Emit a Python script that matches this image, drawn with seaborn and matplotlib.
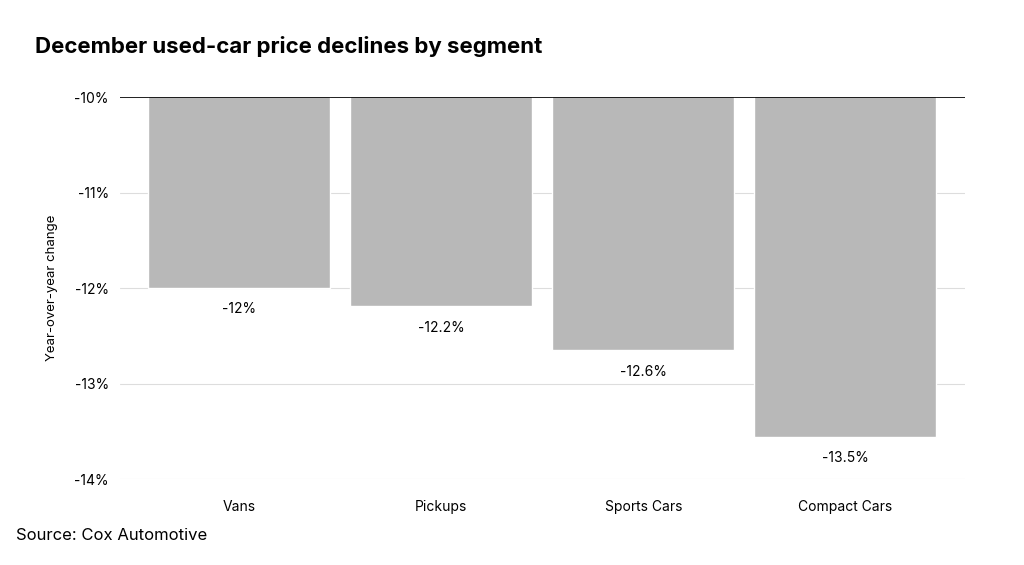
import matplotlib.pyplot as plt
import seaborn as sns
import pandas as pd

segments = ["Vans", "Pickups", "Sports Cars", "Compact Cars"]
changes = [-12.0, -12.19, -12.65, -13.56]
labels = ["-12%", "-12.2%", "-12.6%", "-13.5%"]
yticks = [-10, -11, -12, -13, -14]

sns.set_style("white")
plt.rcParams["font.family"] = ["Inter", "DejaVu Sans"]
plt.rcParams["text.color"] = "black"

df = pd.DataFrame({"segment": segments, "change": changes})
fig = plt.figure(figsize=(10.24, 5.65), dpi=100)
ax = fig.add_axes([0.117, 0.152, 0.825, 0.676])

sns.barplot(data=df, x="segment", y="change", color="#b8b8b8", saturation=1,
            width=0.9, ax=ax, zorder=2)
ax.set_xlim(-0.59, 3.59)
ax.set_ylim(-14, -10)
ax.set_yticks(yticks)
ax.set_yticklabels([f"{t}%" for t in yticks], fontsize=10)
ax.grid(axis="y", color="#dddddd", lw=0.8, zorder=0)
ax.axhline(-10, color="black", lw=1.2, zorder=3)
for s in ax.spines.values():
    s.set_visible(False)
ax.tick_params(axis="both", length=0, labelsize=10, pad=8, labelcolor="black")
ax.tick_params(axis="x", pad=15)
ax.set_xlabel("")
ax.set_ylabel("Year-over-year change", fontsize=9.5, labelpad=12, color="black")

for i, (v, lab) in enumerate(zip(changes, labels)):
    ax.text(i, v - 0.15, lab, ha="center", va="top", fontsize=10, color="black")

fig.text(0.034, 0.917, "December used-car price declines by segment",
         fontsize=16, fontweight="bold", ha="left", va="center", color="black")
fig.text(0.016, 0.052, "Source: Cox Automotive", fontsize=12, ha="left",
         va="center", color="black")

fig.savefig("out.png", dpi=100)
